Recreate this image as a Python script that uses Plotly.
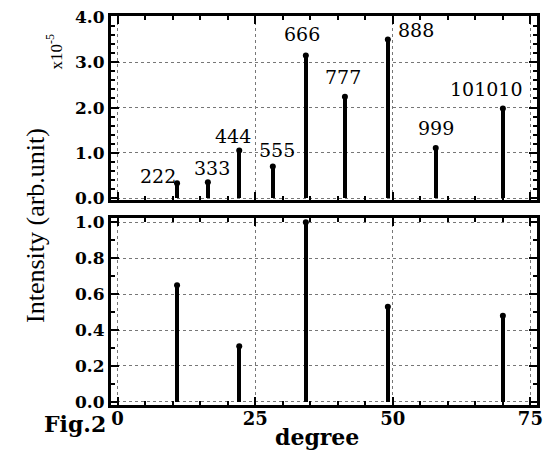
import plotly.graph_objects as go

# ---- data ----
top_pos = [10.8, 16.4, 22.1, 28.2, 34.2, 41.3, 49.1, 57.8, 70.0]
top_int = [0.33, 0.35, 1.05, 0.70, 3.15, 2.24, 3.50, 1.11, 1.98]
top_labels = ["222", "333", "444", "555", "666", "777", "888", "999", "101010"]
label_x = [7.3, 17.2, 21.0, 29.0, 33.5, 40.9, 54.2, 57.8, 67.1]
label_y = [0.50, 0.66, 1.37, 1.07, 3.62, 2.67, 3.72, 1.54, 2.41]

bot_pos = [10.8, 22.1, 34.2, 49.1, 70.0]
bot_int = [0.65, 0.31, 1.00, 0.53, 0.48]

x_ticks = [0, 25, 50, 75]
top_ticks = [0, 1, 2, 3, 4]
top_ticktext = ["0.0", "1.0", "2.0", "3.0", "4.0"]
bot_ticks = [0, 0.2, 0.4, 0.6, 0.8, 1.0]
bot_ticktext = ["0.0", "0.2", "0.4", "0.6", "0.8", "1.0"]

SERIF = "DejaVu Serif"
TIMES = "Liberation Serif"

fig = go.Figure()

# top panel
fig.add_trace(go.Bar(x=top_pos, y=top_int, width=0.8, marker=dict(color="black", line=dict(width=0)),
                     xaxis="x", yaxis="y", showlegend=False))
fig.add_trace(go.Scatter(x=top_pos, y=top_int, mode="markers", marker=dict(color="black", size=6),
                         xaxis="x", yaxis="y", showlegend=False))
# bottom panel
fig.add_trace(go.Bar(x=bot_pos, y=bot_int, width=0.8, marker=dict(color="black", line=dict(width=0)),
                     xaxis="x2", yaxis="y2", showlegend=False))
fig.add_trace(go.Scatter(x=bot_pos, y=bot_int, mode="markers", marker=dict(color="black", size=6),
                         xaxis="x2", yaxis="y2", showlegend=False))

for lx, ly, t in zip(label_x, label_y, top_labels):
    fig.add_annotation(x=lx, y=ly, xref="x", yref="y", text=t, showarrow=False,
                       font=dict(family=SERIF, size=19, color="black"))

common_x = dict(range=[-1.2, 76.2], tickvals=x_ticks, ticks="inside", ticklen=8, tickwidth=2,
                tickcolor="black", showline=True, linewidth=3, linecolor="black", mirror="allticks",
                showgrid=True, gridcolor="#777", griddash="dot", gridwidth=1, zeroline=False,
                automargin=False, ticklabeloverflow="allow",
                minor=dict(dtick=5, ticks="inside", ticklen=4, tickwidth=1.5, tickcolor="black"))
common_y = dict(ticks="inside", ticklen=8, tickwidth=2, tickcolor="black", showline=True,
                linewidth=3, linecolor="black", mirror="allticks", showgrid=True, gridcolor="#777",
                griddash="dot", gridwidth=1, zeroline=False, automargin=False,
                ticklabeloverflow="allow",
                tickfont=dict(family=SERIF, size=17, color="black", weight="bold"))

# page body has an 8px default margin, so the figure is 8px smaller and offset
fig.update_layout(
    width=544, height=446,
    margin=dict(l=103, r=15, t=8, b=49),
    plot_bgcolor="white", paper_bgcolor="white",
    bargap=0,
    xaxis=dict(**common_x, anchor="y", showticklabels=False),
    yaxis=dict(**common_y, domain=[0.527, 1.0], range=[-0.04, 4.02], tickvals=top_ticks,
               ticktext=top_ticktext, minor=dict(dtick=0.2, ticks="inside", ticklen=4,
                                                 tickwidth=1.5, tickcolor="black")),
    xaxis2=dict(**common_x, anchor="y2", matches="x", showticklabels=True, ticklabelstandoff=-5,
                tickfont=dict(family=SERIF, size=18, color="black", weight="bold")),
    yaxis2=dict(**common_y, domain=[0.0, 0.481], range=[-0.018, 1.025], tickvals=bot_ticks,
                ticktext=bot_ticktext, minor=dict(dtick=0.1, ticks="inside", ticklen=4,
                                                  tickwidth=1.5, tickcolor="black")),
)

fig.add_annotation(xref="paper", yref="paper", x=(41 - 111) / 426, y=(405 - 33) / 389,
                   text="x10<sup>-5</sup>", textangle=-90, showarrow=False,
                   font=dict(family=TIMES, size=17, color="black"))
fig.add_annotation(xref="paper", yref="paper", x=(35 - 111) / 426, y=(405 - 226) / 389,
                   xanchor="center", yanchor="middle",
                   text="Intensity (arb.unit)", textangle=-90, showarrow=False,
                   font=dict(family=TIMES, size=26, color="black"))
fig.add_annotation(xref="paper", yref="paper", x=(317 - 111) / 426, y=(405 - 437) / 389,
                   yanchor="middle", text="<b>degree</b>", showarrow=False,
                   font=dict(family=SERIF, size=22, color="black"))
fig.add_annotation(xref="paper", yref="paper", x=(42 - 111) / 426, y=(405 - 424) / 389,
                   yanchor="middle", text="<b>Fig.2</b>", showarrow=False,
                   font=dict(family=SERIF, size=22, color="black"))

fig.write_html("out.html")
